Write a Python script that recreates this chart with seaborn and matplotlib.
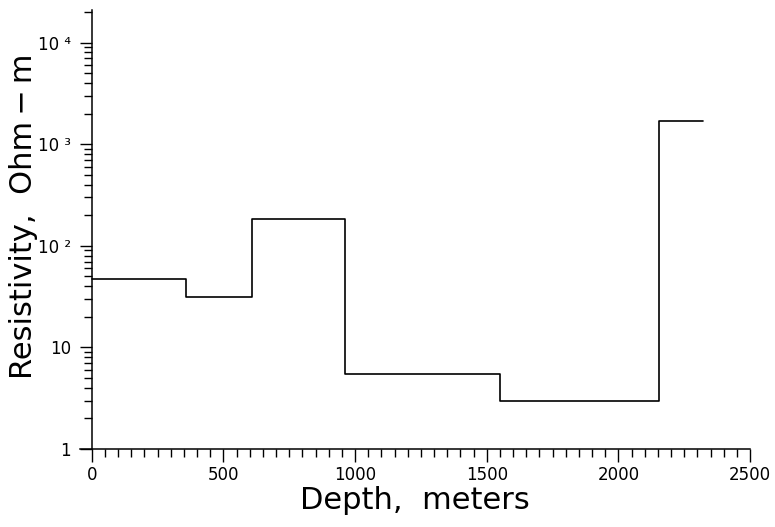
import numpy as np
import pandas as pd
import seaborn as sns
import matplotlib.pyplot as plt
from matplotlib.ticker import FixedLocator, LogLocator, MultipleLocator, NullFormatter

# layered resistivity model (step boundaries, metres)
depth = [0, 357, 607, 961, 1550, 2154, 2320]
resistivity = [47, 31.5, 185, 5.5, 3.0, 1700, 1700]

ytick_vals = [1, 10, 100, 1000, 10000]
ytick_text = ["1", "10", "10 \u00b2", "10 \u00b3", "10 \u2074"]
xtick_vals = [0, 500, 1000, 1500, 2000, 2500]

sns.set_style("ticks")
plt.rcParams['font.family'] = ['DejaVu Sans']

df = pd.DataFrame({"depth": depth, "rho": resistivity})

fig = plt.figure(figsize=(7.75, 5.27), dpi=100)
ax = fig.add_axes([80 / 775, 78 / 527, 670 / 775, 439 / 527])

sns.lineplot(data=df, x="depth", y="rho", estimator=None, drawstyle="steps-post",
             color="black", linewidth=1.2, ax=ax)

ax.set_yscale("log")
ax.set_xlim(-45, 2500)
ax.set_ylim(1, 10 ** 4.32)

ax.spines["top"].set_visible(False)
ax.spines["right"].set_visible(False)
ax.spines["left"].set_position(("data", 0))
for s in ["left", "bottom"]:
    ax.spines[s].set_linewidth(1.1)
    ax.spines[s].set_color("black")

ax.xaxis.set_major_locator(FixedLocator(xtick_vals))
ax.xaxis.set_minor_locator(MultipleLocator(50))
ax.set_xticklabels([str(v) for v in xtick_vals])
ax.yaxis.set_major_locator(FixedLocator(ytick_vals))
ax.yaxis.set_minor_locator(LogLocator(base=10, subs=np.arange(2, 10)))
ax.yaxis.set_minor_formatter(NullFormatter())
ax.set_yticklabels(ytick_text)

ax.tick_params(axis="both", which="major", direction="out", length=9, width=1,
               labelsize=12, color="black", labelcolor="black")
ax.tick_params(axis="both", which="minor", direction="out", length=6, width=1,
               color="black")
ax.tick_params(axis="y", pad=6)

ax.set_xlabel("Depth,  meters", fontsize=22, color="black", labelpad=1)
ax.set_ylabel("Resistivity,  Ohm\u2009\u2212\u2009m", fontsize=22, color="black")
ax.yaxis.set_label_coords(-0.063, 0.53)

fig.savefig("out.png", dpi=100)
